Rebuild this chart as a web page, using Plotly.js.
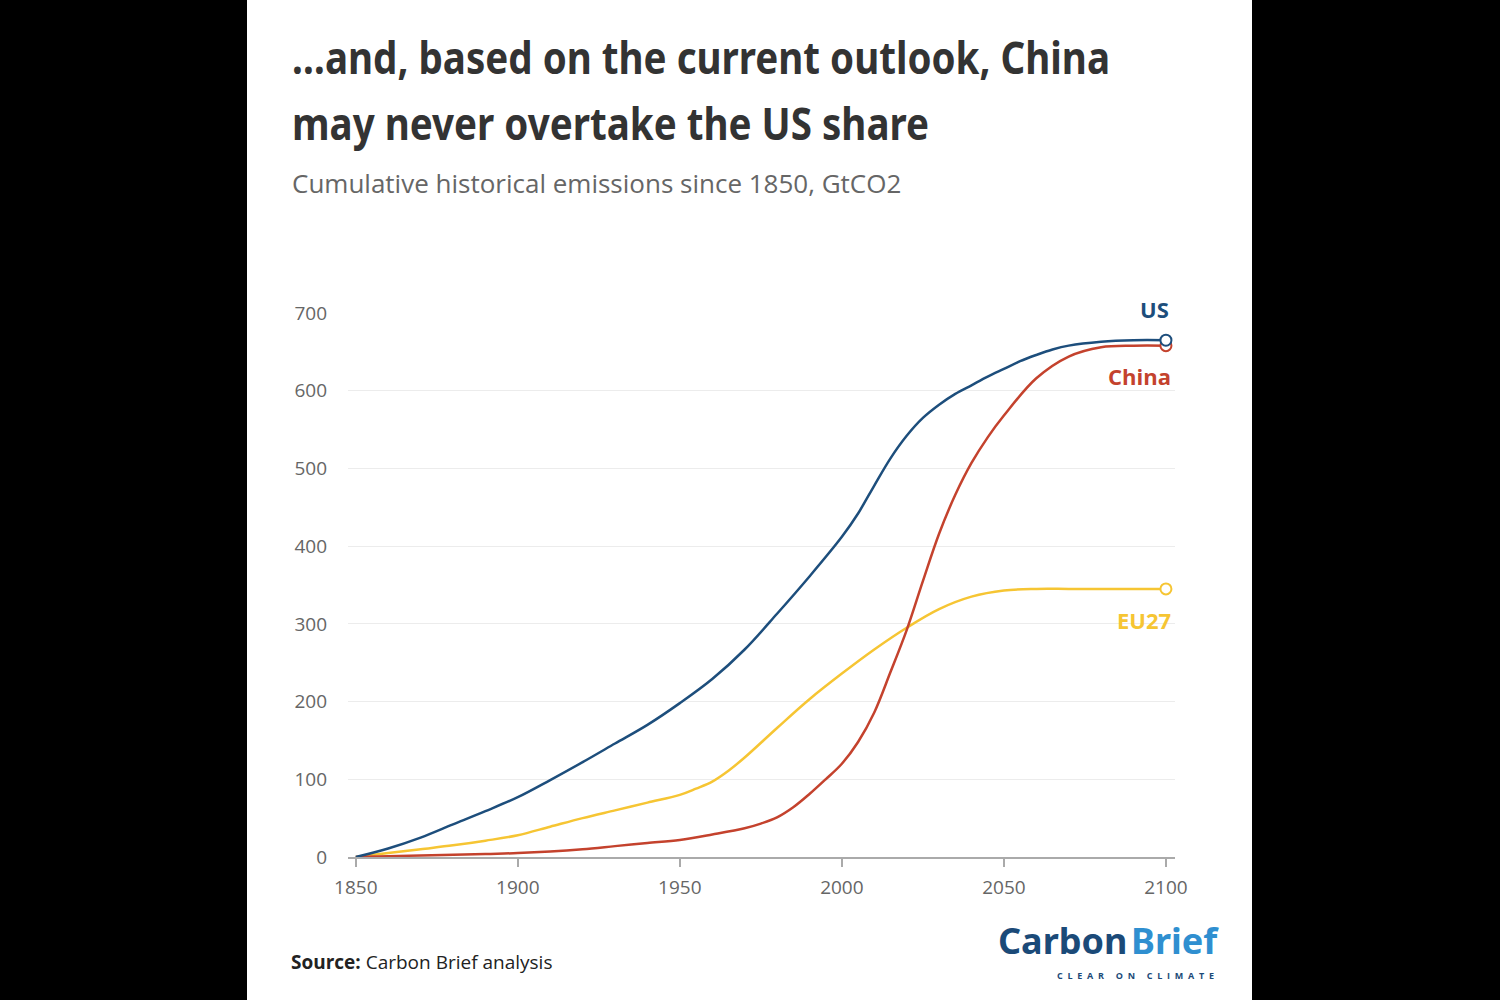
<!DOCTYPE html>
<html>
<head>
<meta charset="utf-8">
<script src="https://cdn.plot.ly/plotly-3.0.1.min.js"></script>
<style>
  html, body { margin: 0; padding: 0; background: #000; width: 1500px; height: 1000px; overflow: hidden; }
  #panel { position: absolute; left: 247px; top: 0; width: 1005px; height: 1000px; background: #fff; }
  #chart { width: 1005px; height: 1000px; }
</style>
</head>
<body>
<div id="panel"><div id="chart"></div></div>
<script>
// ---- Data (cumulative emissions since 1850, GtCO2) ----
const usYears = [1850,1860,1870,1880,1890,1900,1910,1920,1930,1940,1950,1960,1970,1980,1990,2000,2005,2010,2015,2020,2025,2030,2035,2040,2045,2050,2055,2060,2065,2070,2080,2090,2100];
const usValues = [0,11,25,42,59,77,99,122,146,170,198,229,267,313,361,412,442,478,513,542,565,582,596,607,618,628,638,646,653,658,663,665,665];

const chinaYears = [1850,1870,1890,1900,1910,1920,1930,1940,1950,1960,1970,1975,1980,1985,1990,1995,2000,2005,2010,2015,2020,2025,2030,2035,2040,2045,2050,2060,2070,2080,2090,2100];
const chinaValues = [0,2,4,5,7,10,14,18,22,29,37,43,51,64,81,100,120,148,186,238,292,355,416,466,507,540,568,616,644,656,658,658];

const euYears = [1850,1860,1870,1880,1890,1900,1910,1920,1930,1940,1950,1955,1960,1965,1970,1980,1990,2000,2010,2020,2030,2040,2050,2060,2070,2080,2090,2100];
const euValues = [0,5,10,15,21,28,39,50,60,70,80,88,97,111,128,166,203,236,267,295,319,335,343,345,345,345,345,345];

const yTicks = [0,100,200,300,400,500,600,700];
const xTicks = [1850,1900,1950,2000,2050,2100];

const titleLine1 = "…and, based on the current outlook, China";
const titleLine2 = "may never overtake the US share";
const subtitle = "Cumulative historical emissions since 1850, GtCO2";

// ---- Styles ----
const colors = { US: "#1d4e7c", China: "#c4422d", EU27: "#f6c533" };
const condensed = "'Noto Sans', 'DejaVu Sans Condensed', sans-serif";

function lineTrace(name, xs, ys) {
  return {
    type: "scatter", mode: "lines", name: name, x: xs, y: ys,
    line: { color: colors[name], width: 2.5, shape: "spline", smoothing: 1 },
    hoverinfo: "x+y+name", showlegend: false
  };
}
function endTrace(name, xs, ys) {
  const n = xs.length - 1;
  return {
    type: "scatter", mode: "markers", name: name, x: [xs[n]], y: [ys[n]],
    marker: { symbol: "circle", size: 11, color: "#fff", line: { color: colors[name], width: 2 } },
    cliponaxis: false, showlegend: false, hoverinfo: "skip"
  };
}

const data = [
  lineTrace("EU27", euYears, euValues),
  lineTrace("China", chinaYears, chinaValues),
  lineTrace("US", usYears, usValues),
  endTrace("EU27", euYears, euValues),
  endTrace("China", chinaYears, chinaValues),
  endTrace("US", usYears, usValues)
];

const layout = {
  width: 1005, height: 1000,
  paper_bgcolor: "#fff", plot_bgcolor: "#fff",
  margin: { l: 101, r: 77, t: 313, b: 143 },
  showlegend: false,
  xaxis: {
    range: [1847.6, 2102.8], tickvals: xTicks, ticktext: xTicks.map(String),
    showgrid: false, zeroline: false,
    showline: true, linecolor: "#aaaaaa", linewidth: 2,
    ticks: "outside", ticklen: 8, tickwidth: 1.5, tickcolor: "#aaaaaa",
    tickfont: { family: "'Open Sans', sans-serif", size: 19, color: "#666" },
    ticklabelstandoff: 4
  },
  yaxis: {
    range: [0, 700], tickvals: yTicks, ticktext: yTicks.map(String),
    showgrid: true, gridcolor: "#ececec", gridwidth: 1,
    zeroline: false, showline: false, ticks: "",
    tickfont: { family: "'Open Sans', sans-serif", size: 19, color: "#666" },
    ticklabelstandoff: 20
  },
  annotations: [
    { text: titleLine1, xref: "paper", yref: "paper", x: -0.0701, y: 1.4706,
      xanchor: "left", yanchor: "middle", align: "left", showarrow: false,
      font: { family: condensed, size: 44, weight: "bold", color: "#333" } },
    { text: titleLine2, xref: "paper", yref: "paper", x: -0.0701, y: 1.349,
      xanchor: "left", yanchor: "middle", align: "left", showarrow: false,
      font: { family: condensed, size: 44, weight: "bold", color: "#333" } },
    { text: subtitle, xref: "paper", yref: "paper", x: -0.0701, y: 1.239,
      xanchor: "left", yanchor: "middle", align: "left", showarrow: false,
      font: { family: "'Open Sans', sans-serif", size: 26, color: "#666" } },
    { text: "<b>US</b>", xref: "paper", yref: "paper", x: 0.9952, y: 1.0074,
      xanchor: "right", yanchor: "middle", showarrow: false,
      font: { family: "'Open Sans', sans-serif", size: 22, color: colors.US } },
    { text: "<b>China</b>", xref: "paper", yref: "paper", x: 0.9976, y: 0.8842,
      xanchor: "right", yanchor: "middle", showarrow: false,
      font: { family: "'Open Sans', sans-serif", size: 22, color: colors.China } },
    { text: "<b>EU27</b>", xref: "paper", yref: "paper", x: 0.9976, y: 0.4357,
      xanchor: "right", yanchor: "middle", showarrow: false,
      font: { family: "'Open Sans', sans-serif", size: 22, color: colors.EU27 } },
    { text: "<b>Source:</b> Carbon Brief analysis", xref: "paper", yref: "paper", x: -0.0713, y: -0.193,
      xanchor: "left", yanchor: "middle", align: "left", showarrow: false,
      font: { family: "'Open Sans', sans-serif", size: 19, color: "#222" } },
    { text: "Carbon", xref: "paper", yref: "paper", x: 0.9445, y: -0.154,
      xanchor: "right", yanchor: "middle", align: "right", showarrow: false,
      font: { family: condensed, size: 36, weight: "bold", color: "#1b4a78" } },
    { text: "Brief", xref: "paper", yref: "paper", x: 0.9445, y: -0.154,
      xanchor: "left", yanchor: "middle", align: "left", showarrow: false,
      font: { family: condensed, size: 36, weight: "bold", color: "#2f8fd0" } },
    { text: "CLEAR ON CLIMATE", xref: "paper", yref: "paper", x: 0.8549, y: -0.2180, width: 161,
      xanchor: "left", yanchor: "middle", align: "left", showarrow: false,
      font: { family: "'Open Sans', sans-serif", size: 9, weight: "bold", color: "#1b4a78" } }
  ]
};

// target widths of the condensed title lines and tagline, as in the reference
const squeeze = [
  { i: 0, w: 818, adj: "spacingAndGlyphs" },
  { i: 1, w: 637, adj: "spacingAndGlyphs" },
  { i: 9, w: 157, adj: "spacing" }
];

Plotly.newPlot("chart", data, layout, { displayModeBar: false, staticPlot: true }).then(function (gd) {
  squeeze.forEach(function (s) {
    const t = gd.querySelector('.annotation[data-index="' + s.i + '"] text.annotation-text');
    if (t) {
      t.setAttribute("textLength", s.w);
      t.setAttribute("lengthAdjust", s.adj);
    }
  });
});
</script>
</body>
</html>
